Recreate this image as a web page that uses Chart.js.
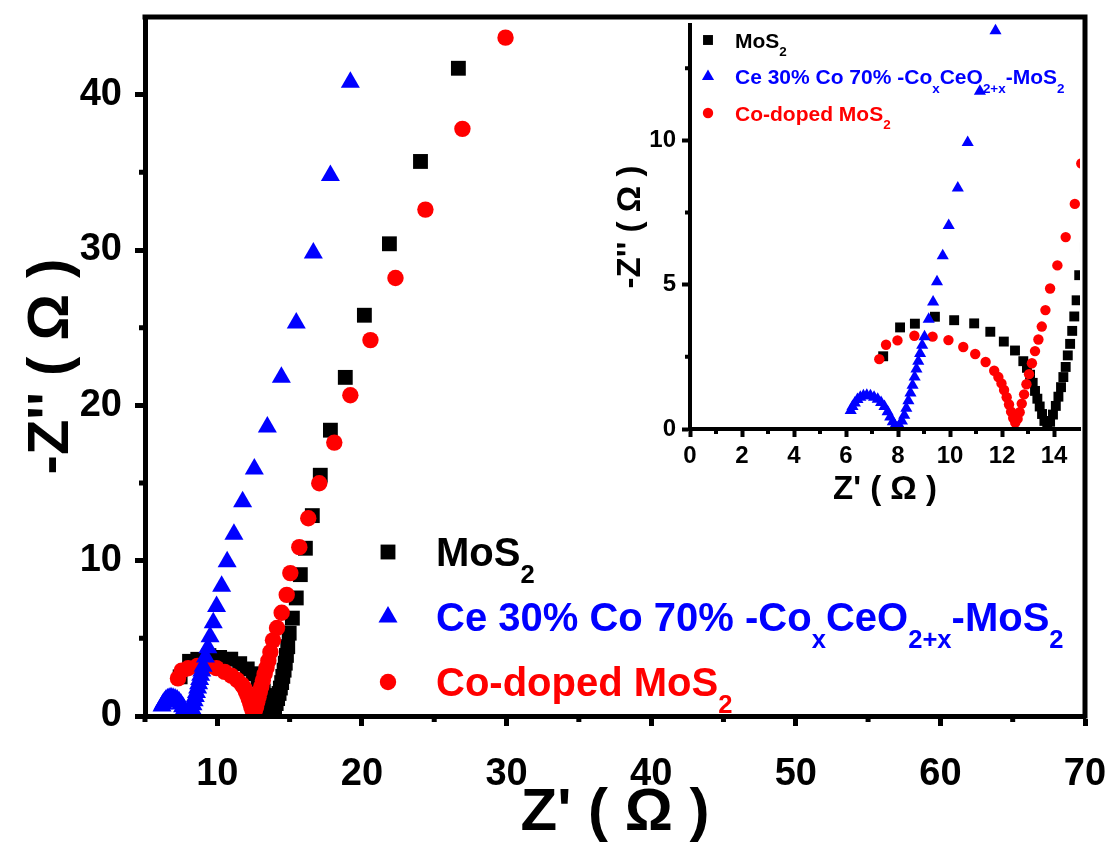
<!DOCTYPE html>
<html>
<head>
<meta charset="utf-8">
<title>Nyquist plots</title>
<script src="https://cdn.jsdelivr.net/npm/chart.js@4.4.1/dist/chart.umd.min.js"></script>
<style>
  html, body { margin: 0; padding: 0; background: #fff; }
  #wrap { position: relative; width: 1113px; height: 843px; }
  #mainChart { position: absolute; left: 0; top: 0; }
  #insetChart { position: absolute; left: 600px; top: 0; }
</style>
</head>
<body>
<div id="wrap">
  <canvas id="mainChart" width="1113" height="843"></canvas>
  <canvas id="insetChart" width="500" height="520"></canvas>
</div>
<script>
const FONT = 'Arial, "Liberation Sans", Helvetica, sans-serif';

// series names (legend order) and their rich-text forms with subscripts
const seriesNames = ['MoS2', 'Ce 30% Co 70% -CoxCeO2+x-MoS2', 'Co-doped MoS2'];
const richNames = [
  [['MoS', 0], ['2', 1]],
  [['Ce 30% Co 70% -Co', 0], ['x', 1], ['CeO', 0], ['2+x', 1], ['-MoS', 0], ['2', 1]],
  [['Co-doped MoS', 0], ['2', 1]]
];

// MoS2: Z' and -Z'' (ohm)
const mos2Re = [26.67, 24.05, 21.9, 20.17, 18.85, 17.82, 17.12, 16.57, 16.09, 15.74, 15.46, 15.19,
  14.97, 14.87, 14.78, 14.7, 14.62, 14.53, 14.45, 14.36, 14.27, 14.17, 14.07, 13.96, 13.85, 13.74,
  13.63, 13.54, 13.45, 13.36, 13.27, 13.18, 13.08, 12.96, 12.82, 12.5, 12.07, 11.55, 10.93, 10.16,
  9.42, 8.65, 8.08, 7.43];
const mos2Im = [41.7, 35.7, 30.4, 25.8, 21.8, 18.4, 15.5, 12.9, 10.8, 9.1, 7.6, 6.3,
  5.33, 4.46, 3.9, 3.4, 2.95, 2.55, 2.15, 1.8, 1.45, 1.12, 0.8, 0.5, 0.25, 0.12,
  0.28, 0.52, 0.78, 1.05, 1.32, 1.6, 1.88, 2.12, 2.35, 2.72, 3.03, 3.37, 3.66, 3.77,
  3.89, 3.65, 3.52, 2.52];

// Ce 30% Co 70% -CoxCeO2+x-MoS2
const ceRe = [19.2, 17.82, 16.64, 15.46, 14.43, 13.46, 12.56, 11.75, 11.15, 10.68, 10.3, 9.95,
  9.72, 9.5, 9.35, 9.18, 9.02, 8.93, 8.85, 8.78, 8.71, 8.64, 8.56, 8.48, 8.4, 8.32, 8.24, 8.15,
  8.05, 7.96, 7.88, 7.8, 7.7, 7.6, 7.48, 7.35, 7.22, 7.08, 6.94, 6.8, 6.67, 6.55, 6.44, 6.34,
  6.25, 6.18];
const ceIm = [40.8, 34.8, 29.8, 25.3, 21.8, 18.6, 15.9, 13.8, 11.7, 9.93, 8.35, 7.05,
  6.0, 5.1, 4.4, 3.8, 3.2, 2.9, 2.62, 2.35, 2.08, 1.8, 1.52, 1.25, 0.98, 0.72, 0.48, 0.28,
  0.12, 0.05, 0.12, 0.25, 0.42, 0.6, 0.78, 0.92, 1.03, 1.1, 1.15, 1.17, 1.15, 1.1, 1.02, 0.9,
  0.78, 0.64];

// Co-doped MoS2
const coRe = [29.93, 26.95, 24.39, 22.32, 20.59, 19.2, 18.09, 17.05, 16.29, 15.67, 15.05, 14.8,
  14.45, 14.13, 13.85, 13.67, 13.53, 13.4, 13.27, 13.15, 13.04, 12.94, 12.85, 12.76, 12.68, 12.6,
  12.51, 12.43, 12.35, 12.27, 12.18, 12.08, 11.98, 11.86, 11.7, 11.37, 10.97, 10.51, 9.94, 9.33,
  8.63, 7.98, 7.54, 7.28];
const coIm = [43.67, 37.8, 32.6, 28.2, 24.2, 20.65, 17.6, 14.98, 12.73, 10.87, 9.2, 7.8,
  6.65, 5.67, 4.87, 4.12, 3.55, 3.1, 2.7, 2.28, 1.9, 1.55, 1.2, 0.88, 0.58, 0.35,
  0.22, 0.38, 0.6, 0.85, 1.1, 1.35, 1.58, 1.8, 2.02, 2.32, 2.6, 2.84, 3.08, 3.2,
  3.23, 3.07, 2.92, 2.42];

// axis ticks
const mainXMajor = [10, 20, 30, 40, 50, 60, 70];
const mainXMinor = [5, 15, 25, 35, 45, 55, 65];
const mainYMajor = [0, 10, 20, 30, 40];
const mainYMinor = [5, 15, 25, 35];
const insetXMajor = [0, 2, 4, 6, 8, 10, 12, 14];
const insetXMinor = [1, 3, 5, 7, 9, 11, 13];
const insetYMajor = [0, 5, 10];
const insetYMinor = [2.5, 7.5, 12.5];

const BLACK = '#000000', BLUE = '#0000ff', RED = '#ff0000';

function points(re, im) {
  return re.map((x, i) => ({ x: x, y: im[i] }));
}

// blue first so it sits on top, black last (drawn underneath)
function makeDatasets(sq, tri, dot, clip) {
  return [
    { label: seriesNames[1], rich: richNames[1], data: points(ceRe, ceIm), pointStyle: 'triangle',
      pointRadius: tri, backgroundColor: BLUE, borderColor: BLUE, borderWidth: 0, clip: clip },
    { label: seriesNames[2], rich: richNames[2], data: points(coRe, coIm), pointStyle: 'circle',
      pointRadius: dot, backgroundColor: RED, borderColor: RED, borderWidth: 0, clip: clip },
    { label: seriesNames[0], rich: richNames[0], data: points(mos2Re, mos2Im), pointStyle: 'rect',
      pointRadius: sq, backgroundColor: BLACK, borderColor: BLACK, borderWidth: 0, clip: clip }
  ];
}

function makeScale(o) {
  return {
    type: 'linear',
    min: o.min,
    max: o.max,
    afterBuildTicks: s => { s.ticks = o.major.map(v => ({ value: v })); },
    afterFit: s => {
      if (o.width !== undefined) s.width = o.width;
      if (o.height !== undefined) s.height = o.height;
      // labels may overhang the plot box; keep the box where it is
      s.paddingTop = s.paddingBottom = s.paddingLeft = s.paddingRight = 0;
    },
    grid: { display: true, drawOnChartArea: false, drawTicks: true, tickLength: o.tickLen,
            tickWidth: o.lw, tickColor: BLACK, z: 1 },
    border: { display: true, color: BLACK, width: o.lw, z: 1 },
    ticks: { autoSkip: false, maxRotation: 0, padding: o.pad, color: BLACK, z: 1,
             font: { family: FONT, size: o.tickSize, weight: 'bold' },
             callback: v => String(v) },
    title: { display: true, text: o.title, color: BLACK, padding: o.titlePad,
             font: { family: FONT, size: o.titleSize, weight: 'bold', lineHeight: 1 } }
  };
}

// short outward minor ticks
const minorTicks = {
  id: 'minorTicks',
  afterDraw(chart, args, o) {
    const ctx = chart.ctx, xs = chart.scales.x, ys = chart.scales.y;
    ctx.save();
    ctx.strokeStyle = BLACK;
    ctx.lineWidth = o.width;
    ctx.beginPath();
    o.x.forEach(v => {
      const p = xs.getPixelForValue(v);
      ctx.moveTo(p, xs.top);
      ctx.lineTo(p, xs.top + o.len);
    });
    o.y.forEach(v => {
      const p = ys.getPixelForValue(v);
      ctx.moveTo(ys.right, p);
      ctx.lineTo(ys.right - o.len, p);
    });
    ctx.stroke();
    ctx.restore();
  }
};

// top and right edges of the box
const frame = {
  id: 'frame',
  afterDraw(chart, args, o) {
    if (!o.show) return;
    const ctx = chart.ctx, a = chart.chartArea;
    ctx.save();
    ctx.strokeStyle = BLACK;
    ctx.lineWidth = o.width;
    ctx.beginPath();
    ctx.moveTo(a.left - o.width / 2, a.top);
    ctx.lineTo(a.right, a.top);
    ctx.lineTo(a.right, a.bottom + o.width / 2);
    ctx.stroke();
    ctx.restore();
  }
};

function drawRich(ctx, parts, x, yMid, size, color) {
  const base = yMid + size * 0.36;
  let cx = x;
  ctx.fillStyle = color;
  ctx.textAlign = 'left';
  ctx.textBaseline = 'alphabetic';
  parts.forEach(([t, sub]) => {
    const fs = sub ? size * 0.64 : size;
    ctx.font = 'bold ' + fs + 'px ' + FONT;
    ctx.fillText(t, cx, sub ? base + size * 0.42 : base);
    cx += ctx.measureText(t).width;
  });
}

// legend with subscripted labels
const richLegend = {
  id: 'richLegend',
  afterDraw(chart, args, o) {
    const ctx = chart.ctx;
    o.order.forEach((di, row) => {
      const ds = chart.data.datasets[di];
      const y = o.y0 + row * o.dy;
      ctx.save();
      ctx.fillStyle = ds.backgroundColor;
      ctx.strokeStyle = ds.backgroundColor;
      Chart.helpers.drawPoint(ctx, { pointStyle: ds.pointStyle, radius: ds.pointRadius,
        rotation: 0, borderWidth: 0 }, o.markX, y);
      drawRich(ctx, ds.rich, o.textX, y, o.size, ds.backgroundColor);
      ctx.restore();
    });
  }
};

new Chart(document.getElementById('mainChart'), {
  type: 'scatter',
  data: { datasets: makeDatasets(10.5, 11, 8.2, undefined) },
  options: {
    responsive: false,
    animation: false,
    devicePixelRatio: 1,
    layout: { padding: { left: 0, top: 17, right: 28, bottom: 0 } },
    plugins: {
      legend: { display: false },
      tooltip: { enabled: false },
      minorTicks: { x: mainXMinor, y: mainYMinor, len: 6, width: 5 },
      frame: { show: true, width: 5 },
      richLegend: { order: [2, 0, 1], markX: 388, textX: 436, y0: 552, dy: 65, size: 40 }
    },
    scales: {
      x: makeScale({ min: 5, max: 70, major: mainXMajor, height: 127, tickLen: 10, lw: 5,
                     pad: 26, tickSize: 38, title: "Z' ( \u03A9 )", titleSize: 60, titlePad: 0 }),
      y: makeScale({ min: 0, max: 45, major: mainYMajor, width: 145, tickLen: 10, lw: 5,
                     pad: 13, tickSize: 38, title: "-Z'' ( \u03A9 )", titleSize: 58,
                     titlePad: { top: 23, bottom: 0 } })
    }
  },
  plugins: [minorTicks, frame, richLegend]
});

new Chart(document.getElementById('insetChart'), {
  type: 'scatter',
  data: { datasets: makeDatasets(7, 7, 5.2, { left: 0, top: 10, right: 0, bottom: 0 }) },
  options: {
    responsive: false,
    animation: false,
    devicePixelRatio: 1,
    layout: { padding: { left: 0, top: 25, right: 20, bottom: 0 } },
    plugins: {
      legend: { display: false },
      tooltip: { enabled: false },
      minorTicks: { x: insetXMinor, y: insetYMinor, len: 5, width: 4 },
      frame: { show: false },
      richLegend: { order: [2, 0, 1], markX: 108, textX: 135, y0: 40, dy: 36.5, size: 21 }
    },
    scales: {
      x: makeScale({ min: 0, max: 15, major: insetXMajor, height: 91, tickLen: 8, lw: 4,
                     pad: 5, tickSize: 24, title: "Z' ( \u03A9 )", titleSize: 33,
                     titlePad: { top: 0, bottom: 14 } }),
      y: makeScale({ min: 0, max: 14, major: insetYMajor, width: 90, tickLen: 8, lw: 4,
                     pad: 6, tickSize: 24, title: "-Z'' ( \u03A9 )", titleSize: 33,
                     titlePad: { top: 14, bottom: 0 } })
    }
  },
  plugins: [minorTicks, frame, richLegend]
});
</script>
</body>
</html>
